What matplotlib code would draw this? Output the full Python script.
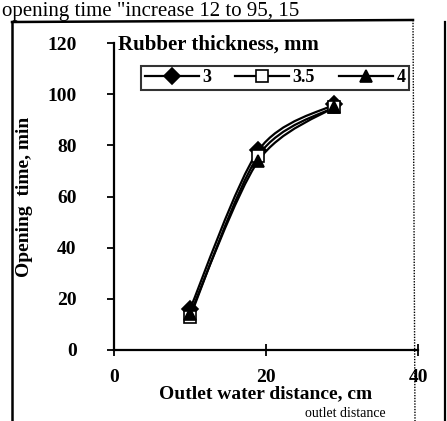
import matplotlib
matplotlib.use("Agg")
import matplotlib.pyplot as plt
import numpy as np
from matplotlib.path import Path
from matplotlib.patches import PathPatch
from matplotlib.lines import Line2D

plt.rcParams['font.family'] = ['Liberation Serif', 'DejaVu Serif']

distance = [10, 19, 29]
series_names = ["3", "3.5", "4"]
series_values = {
    "3": [16, 78, 96],
    "3.5": [13, 76, 95],
    "4": [14, 74, 95],
}
markers = {"3": "D", "3.5": "s", "4": "^"}
facecolors = {"3": "black", "3.5": "white", "4": "black"}
y_ticks = [0, 20, 40, 60, 80, 100, 120]
x_ticks = [0, 20, 40]

W, H = 447, 421
fig = plt.figure(figsize=(W / 100, H / 100), dpi=100)

def fx(px):
    return px / W

def fy(py):
    return 1 - py / H

left, right, top, bottom = 114, 418, 43, 350
ax = fig.add_axes([fx(left), fy(bottom), fx(right - left), (bottom - top) / H])
ax.set_xlim(0, 40)
ax.set_ylim(0, 120)
for s in ["top", "right"]:
    ax.spines[s].set_visible(False)
for s in ["left", "bottom"]:
    ax.spines[s].set_linewidth(1.6)
ax.set_yticks(y_ticks)
ax.set_yticklabels([str(v) for v in y_ticks], fontsize=14, fontweight='bold')
ax.tick_params(axis='y', direction='out', length=5, width=1.3, pad=22)
ax.set_xticks(x_ticks)
ax.set_xticklabels([str(v) for v in x_ticks], fontsize=14, fontweight='bold')
ax.tick_params(axis='x', direction='inout', length=8, width=1.3, pad=10)
ax.set_ylabel("Opening  time, min", fontsize=14, fontweight='bold', labelpad=10)
ax.set_xlabel("Outlet water distance, cm", fontsize=14, fontweight='bold', labelpad=-1)


def smooth_path(xs, ys, t=0.15):
    pts = np.array([ax.transData.transform((x, y)) for x, y in zip(xs, ys)])
    verts = [pts[0]]
    codes = [Path.MOVETO]
    n = len(pts)
    for i in range(n - 1):
        p0 = pts[i - 1] if i > 0 else pts[i]
        p1 = pts[i]
        p2 = pts[i + 1]
        p3 = pts[i + 2] if i + 2 < n else pts[i + 1]
        c1 = p1 + (p2 - p0) * t
        c2 = p2 - (p3 - p1) * t
        verts += [c1, c2, p2]
        codes += [Path.CURVE4] * 3
    inv = ax.transData.inverted()
    verts = [inv.transform(v) for v in verts]
    return Path(verts, codes)

handles = []
for name in series_names:
    ys = series_values[name]
    path = smooth_path(distance, ys)
    ax.add_patch(PathPatch(path, facecolor='none', edgecolor='black', lw=1.6))
    ax.plot(distance, ys, linestyle='none', marker=markers[name], ms=8,
            mfc=facecolors[name], mec='black', mew=1.2)
    handles.append(Line2D([], [], color='black', lw=1.6, marker=markers[name], ms=8,
                          mfc=facecolors[name], mec='black', mew=1.2))

fig.text(fx(118), fy(45), "Rubber thickness, mm", fontsize=15, fontweight='bold',
         va='center', ha='left')

leg = fig.legend(handles, series_names, loc='center', ncol=3,
                 bbox_to_anchor=(fx(275), fy(78)), frameon=True, fancybox=False,
                 edgecolor='black', handlelength=3.0,
                 columnspacing=1.3, handletextpad=0.2, borderpad=0.2,
                 prop={'weight': 'bold', 'size': 13})
leg.get_frame().set_linewidth(1.5)

# page frame
fig.add_artist(Line2D([fx(12), fx(12)], [fy(22), fy(421)], color='black', lw=1.8))
fig.add_artist(Line2D([fx(12), fx(413)], [fy(22), fy(20)], color='black', lw=1.8))
fig.add_artist(Line2D([fx(413), fx(415)], [fy(20), fy(421)], color='black', lw=1.0, ls=(0, (1, 1))))
fig.add_artist(Line2D([fx(445), fx(445)], [fy(22), fy(421)], color='black', lw=1.6))

# surrounding page text
fig.text(fx(2), fy(16), 'opening time "increase 12 to 95, 15', fontsize=15,
         ha='left', va='baseline')
fig.text(fx(305), fy(417), 'outlet distance', fontsize=10, ha='left', va='baseline')

fig.savefig("out.png", dpi=100)
